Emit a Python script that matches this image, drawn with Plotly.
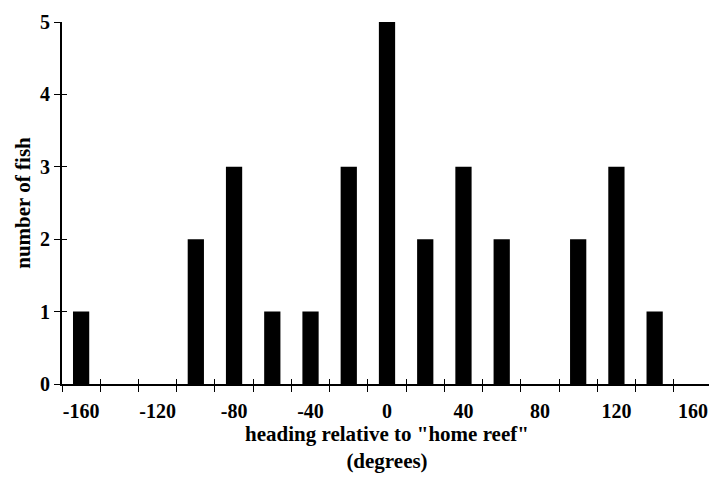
import plotly.graph_objects as go

# heading bins (degrees) and number of fish in each
headings = [-160, -140, -120, -100, -80, -60, -40, -20, 0, 20, 40, 60, 80, 100, 120, 140, 160]
fish_counts = [1, 0, 0, 2, 3, 1, 1, 3, 5, 2, 3, 2, 0, 2, 3, 1, 0]

label_vals = [-160, -120, -80, -40, 0, 40, 80, 120, 160]
label_text = ["-160", "-120", "-80", "-40", "0", "40", "80", "120", "160"]
bin_edges = [-170, -150, -130, -110, -90, -70, -50, -30, -10, 10, 30, 50, 70, 90, 110, 130, 150, 170]
y_ticks = [0, 1, 2, 3, 4, 5]

serif = "Liberation Serif, Times New Roman, serif"
tick_font = dict(family=serif, size=20, color="black", weight="bold")
title_font = dict(family=serif, size=21, color="black", weight="bold")

fig = go.Figure()
fig.add_trace(go.Bar(x=headings, y=fish_counts, width=8.5,
                     marker=dict(color="black", line=dict(width=0)),
                     showlegend=False))
# dummy trace so the overlaid axes (inner half of the crossing ticks) get drawn
fig.add_trace(go.Scatter(x=[headings[0]], y=[0], xaxis="x2", yaxis="y2",
                         mode="markers", marker=dict(opacity=0), showlegend=False,
                         hoverinfo="skip"))

# page body adds an 8px margin, so the figure is a bit smaller than the window
fig.update_layout(
    width=709, height=470,
    margin=dict(l=54, r=5, t=14, b=94),
    plot_bgcolor="white", paper_bgcolor="white",
    font=dict(family=serif, color="black"),
    xaxis=dict(
        range=[-170, 170], tickvals=label_vals, ticktext=label_text, ticks="",
        minor=dict(tickvals=bin_edges, ticks="outside", ticklen=6, tickwidth=1.2, tickcolor="black"),
        showline=True, linewidth=1.8, linecolor="black", automargin=False,
        showgrid=False, zeroline=False, tickfont=tick_font, ticklabelstandoff=8,
        title=dict(text="heading relative to \"home reef\"<br>(degrees)",
                   font=title_font, standoff=3),
    ),
    xaxis2=dict(
        overlaying="x", matches="x", side="bottom", range=[-170, 170],
        tickvals=bin_edges, ticks="inside", ticklen=5, tickwidth=1.2, tickcolor="black",
        showticklabels=False, showgrid=False, zeroline=False, showline=False,
    ),
    yaxis=dict(
        range=[0, 5], tickvals=y_ticks, ticks="outside", ticklen=6, tickwidth=1.2,
        tickcolor="black", showline=True, linewidth=1.8, linecolor="black",
        showgrid=False, zeroline=False, tickfont=tick_font, ticklabelstandoff=0,
        automargin=False,
        title=dict(text="number of fish", font=title_font, standoff=4),
    ),
    yaxis2=dict(
        overlaying="y", matches="y", side="left", range=[0, 5],
        tickvals=y_ticks[1:], ticks="inside", ticklen=5, tickwidth=1.2, tickcolor="black",
        showticklabels=False, showgrid=False, zeroline=False, showline=False,
    ),
)

fig.write_html("out.html")
